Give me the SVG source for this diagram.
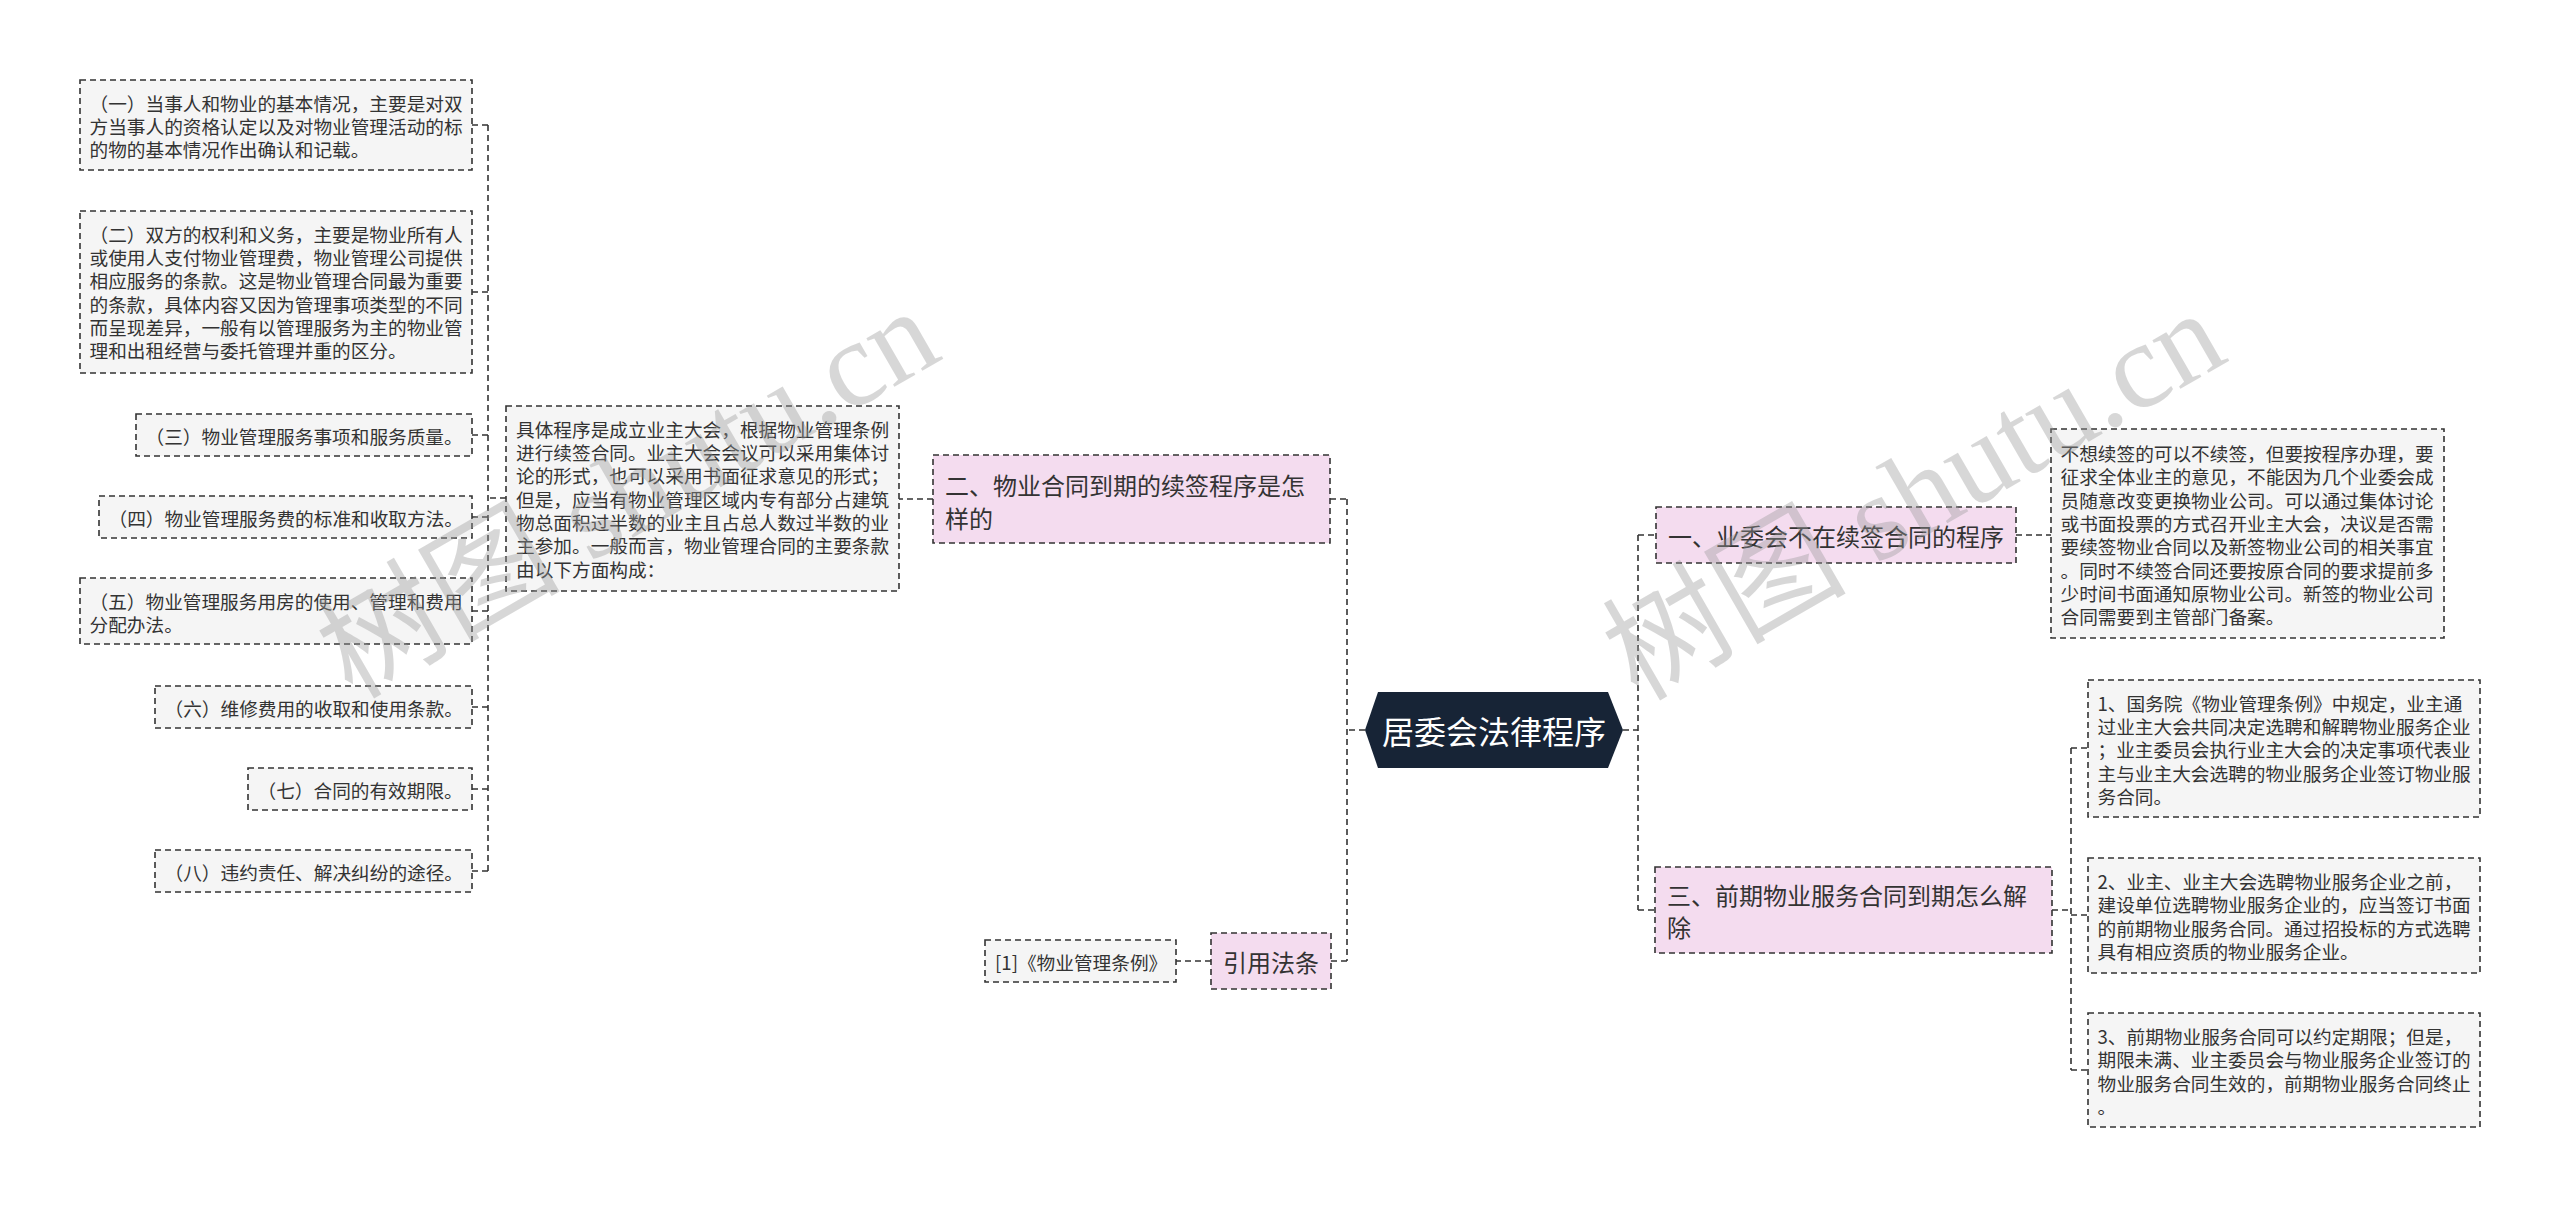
<svg xmlns="http://www.w3.org/2000/svg" width="2560" height="1208" viewBox="0 0 2560 1208">
<style>
text{font-family:"Noto Sans CJK SC","Microsoft YaHei","Liberation Sans",sans-serif;fill:#333;dominant-baseline:central}
.leaf rect{fill:#f5f5f5;stroke:#333;stroke-width:1.6;stroke-dasharray:6 4}
.topic rect{fill:#f4dcef;stroke:#333;stroke-width:1.6;stroke-dasharray:6 4}
.leaf text{font-size:18.67px}
.topic text{font-size:24px}
.conn path{fill:none;stroke:#333;stroke-width:1.6;stroke-dasharray:6 4}
#watermark text{font-size:122px;fill:#999;opacity:0.38;font-family:"Liberation Serif","Noto Sans CJK SC",serif;dominant-baseline:alphabetic}
</style>
<rect width="2560" height="1208" fill="#ffffff"/>

<g id="connectors" class="conn">
  <path d="M1365 730H1347M1347 499V961M1330 499H1347M1331 961H1347"/>
  <path d="M933 499H899M506 498H488M488 125V871M472 125H488M472 292H488M472 435H488M472 517H488M472 611H488M472 707H488M472 789H488M472 871H488"/>
  <path d="M1211 961H1176"/>
  <path d="M1623 730H1638M1638 535V910M1638 535H1656M1638 910H1655"/>
  <path d="M2016 535H2051"/>
  <path d="M2052 910H2071M2071 748V1070M2071 748H2088M2071 915H2088M2071 1070H2088"/>
</g>

<g id="root">
  <polygon points="1365,730 1378,692 1608,692 1623,730 1608,768 1378,768" fill="#172436"/>
  <text x="1494" y="730" text-anchor="middle" style="font-size:32px;fill:#ffffff">居委会法律程序</text>
</g>

<g id="n2" class="topic">
  <rect x="933" y="455" width="397" height="88"/>
  <text x="945" y="484">二、物业合同到期的续签程序是怎</text>
  <text x="945" y="517">样的</text>
</g>

<g id="n2-text" class="leaf">
  <rect x="506" y="406" width="393" height="185"/>
  <text x="516" y="428">具体程序是成立业主大会，根据物业管理条例</text>
  <text x="516" y="451.3">进行续签合同。业主大会会议可以采用集体讨</text>
  <text x="516" y="474.7">论的形式，也可以采用书面征求意见的形式；</text>
  <text x="516" y="498">但是，应当有物业管理区域内专有部分占建筑</text>
  <text x="516" y="521.3">物总面积过半数的业主且占总人数过半数的业</text>
  <text x="516" y="544.7">主参加。一般而言，物业管理合同的主要条款</text>
  <text x="516" y="568">由以下方面构成：</text>
</g>

<g id="l1" class="leaf">
  <rect x="80" y="80" width="392" height="90"/>
  <text x="89.5" y="102">（一）当事人和物业的基本情况，主要是对双</text>
  <text x="89.5" y="125.3">方当事人的资格认定以及对物业管理活动的标</text>
  <text x="89.5" y="148.7">的物的基本情况作出确认和记载。</text>
</g>
<g id="l2" class="leaf">
  <rect x="80" y="211" width="392" height="162"/>
  <text x="89.5" y="233">（二）双方的权利和义务，主要是物业所有人</text>
  <text x="89.5" y="256.3">或使用人支付物业管理费，物业管理公司提供</text>
  <text x="89.5" y="279.7">相应服务的条款。这是物业管理合同最为重要</text>
  <text x="89.5" y="303">的条款，具体内容又因为管理事项类型的不同</text>
  <text x="89.5" y="326.3">而呈现差异，一般有以管理服务为主的物业管</text>
  <text x="89.5" y="349.7">理和出租经营与委托管理并重的区分。</text>
</g>
<g id="l3" class="leaf">
  <rect x="136" y="414" width="336" height="42"/>
  <text x="145.5" y="435.5">（三）物业管理服务事项和服务质量。</text>
</g>
<g id="l4" class="leaf">
  <rect x="99" y="496" width="373" height="42"/>
  <text x="108.5" y="517.5">（四）物业管理服务费的标准和收取方法。</text>
</g>
<g id="l5" class="leaf">
  <rect x="80" y="578" width="392" height="66"/>
  <text x="89.5" y="600">（五）物业管理服务用房的使用、管理和费用</text>
  <text x="89.5" y="623.3">分配办法。</text>
</g>
<g id="l6" class="leaf">
  <rect x="155" y="686" width="317" height="42"/>
  <text x="164.5" y="707.5">（六）维修费用的收取和使用条款。</text>
</g>
<g id="l7" class="leaf">
  <rect x="248" y="768" width="224" height="42"/>
  <text x="257.5" y="789.5">（七）合同的有效期限。</text>
</g>
<g id="l8" class="leaf">
  <rect x="155" y="850" width="317" height="42"/>
  <text x="164.5" y="871.5">（八）违约责任、解决纠纷的途径。</text>
</g>

<g id="n4" class="topic">
  <rect x="1211" y="933" width="120" height="56"/>
  <text x="1271" y="961" text-anchor="middle">引用法条</text>
</g>
<g id="n4-leaf" class="leaf">
  <rect x="985" y="940" width="191" height="42"/>
  <text x="995" y="961.5">[1]《物业管理条例》</text>
</g>

<g id="n1" class="topic">
  <rect x="1656" y="507" width="360" height="56"/>
  <text x="1668" y="535">一、业委会不在续签合同的程序</text>
</g>
<g id="n1-text" class="leaf">
  <rect x="2051" y="429" width="393" height="209"/>
  <text x="2060.5" y="452.5">不想续签的可以不续签，但要按程序办理，要</text>
  <text x="2060.5" y="475.8">征求全体业主的意见，不能因为几个业委会成</text>
  <text x="2060.5" y="499.2">员随意改变更换物业公司。可以通过集体讨论</text>
  <text x="2060.5" y="522.5">或书面投票的方式召开业主大会，决议是否需</text>
  <text x="2060.5" y="545.8">要续签物业合同以及新签物业公司的相关事宜</text>
  <text x="2060.5" y="569.2">。同时不续签合同还要按原合同的要求提前多</text>
  <text x="2060.5" y="592.5">少时间书面通知原物业公司。新签的物业公司</text>
  <text x="2060.5" y="615.8">合同需要到主管部门备案。</text>
</g>

<g id="n3" class="topic">
  <rect x="1655" y="867" width="397" height="86"/>
  <text x="1667" y="894">三、前期物业服务合同到期怎么解</text>
  <text x="1667" y="926">除</text>
</g>
<g id="n3-a" class="leaf">
  <rect x="2088" y="680" width="392" height="137"/>
  <text x="2097.5" y="702">1、国务院《物业管理条例》中规定，业主通</text>
  <text x="2097.5" y="725.3">过业主大会共同决定选聘和解聘物业服务企业</text>
  <text x="2097.5" y="748.7">；业主委员会执行业主大会的决定事项代表业</text>
  <text x="2097.5" y="772">主与业主大会选聘的物业服务企业签订物业服</text>
  <text x="2097.5" y="795.3">务合同。</text>
</g>
<g id="n3-b" class="leaf">
  <rect x="2088" y="858" width="392" height="115"/>
  <text x="2097.5" y="880.5">2、业主、业主大会选聘物业服务企业之前，</text>
  <text x="2097.5" y="903.8">建设单位选聘物业服务企业的，应当签订书面</text>
  <text x="2097.5" y="927.2">的前期物业服务合同。通过招投标的方式选聘</text>
  <text x="2097.5" y="950.5">具有相应资质的物业服务企业。</text>
</g>
<g id="n3-c" class="leaf">
  <rect x="2088" y="1013" width="392" height="114"/>
  <text x="2097.5" y="1035.5">3、前期物业服务合同可以约定期限；但是，</text>
  <text x="2097.5" y="1058.8">期限未满、业主委员会与物业服务企业签订的</text>
  <text x="2097.5" y="1082.2">物业服务合同生效的，前期物业服务合同终止</text>
  <text x="2097.5" y="1105.5">。</text>
</g>

<g id="watermark">
  <text x="352" y="700" transform="rotate(-30 352 700)">树图 shutu.cn</text>
  <text x="1638" y="702" transform="rotate(-30 1638 702)">树图 shutu.cn</text>
</g>
</svg>
